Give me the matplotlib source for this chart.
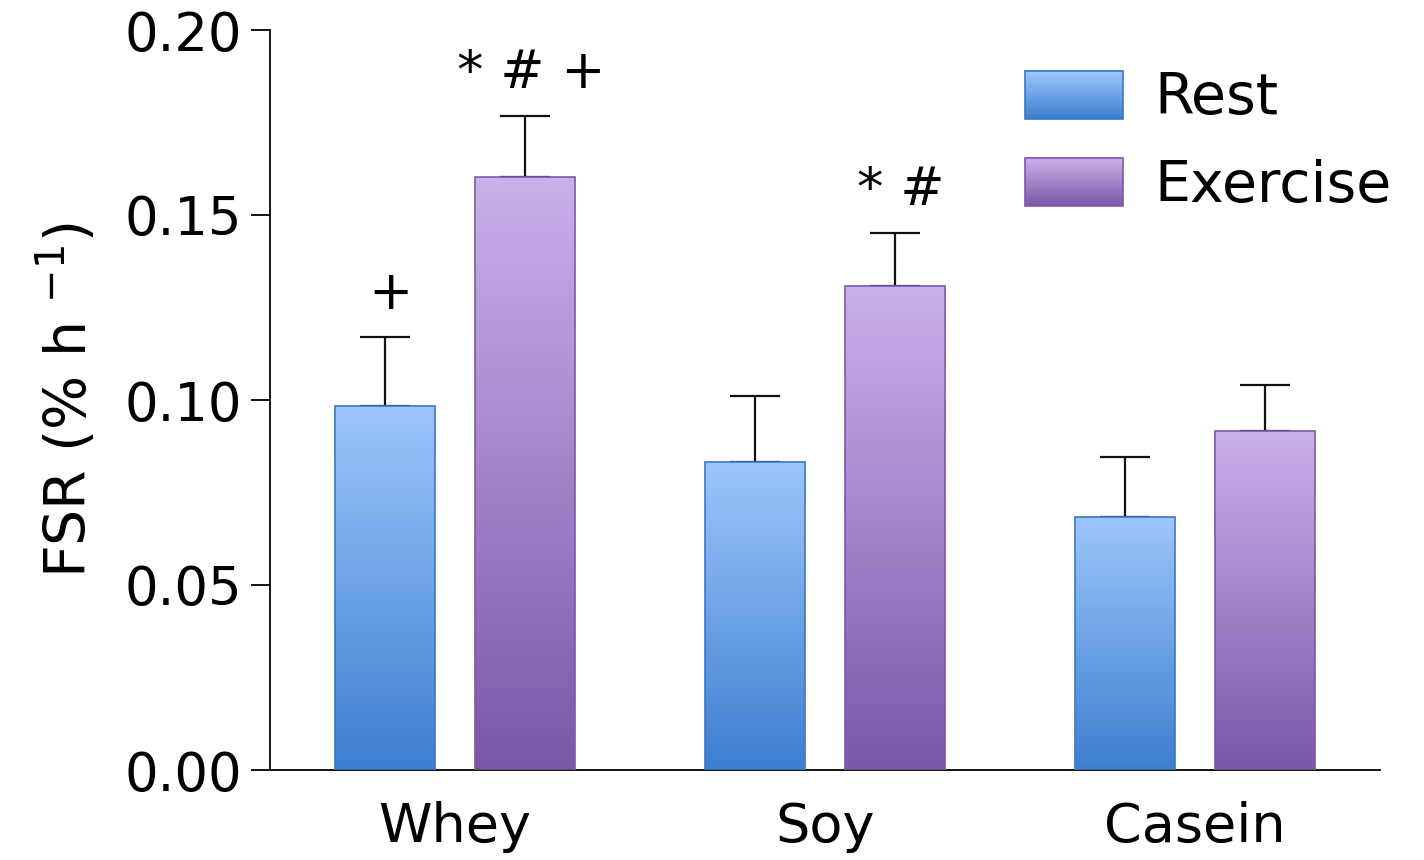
import numpy as np
import matplotlib
matplotlib.use('Agg')
from matplotlib import pyplot as plt
from matplotlib import colors as mcolors
from matplotlib.patches import Rectangle
from matplotlib.legend_handler import HandlerBase

groups     = ['Whey', 'Soy', 'Casein']
rest       = [0.0984, 0.0832, 0.0684]
rest_err   = [0.0186, 0.0180, 0.0162]
exer       = [0.1603, 0.1308, 0.0916]
exer_err   = [0.0165, 0.0143, 0.0124]
rest_marks = ['+', '', '']
exer_marks = ['* # +', '* #', '']

rest_cols = ('#9dc6fc', '#3d7fd0')   # top, bottom
exer_cols = ('#c9b1eb', '#7c56a7')
rest_edge = '#3b77c6'
exer_edge = '#7a5aa6'

plt.rcParams['font.family'] = 'DejaVu Sans'


def gradient_bars(ax, xs, heights, width, cols, edge):
	cmap = mcolors.LinearSegmentedColormap.from_list('g', [cols[1], cols[0]])
	grad = np.linspace(0, 1, 256).reshape(-1, 1)
	bars = ax.bar(xs, heights, width, facecolor='none', edgecolor=edge, linewidth=1.2, zorder=3)
	for b in bars:
		x0, y0 = b.get_x(), b.get_y()
		w, h   = b.get_width(), b.get_height()
		im = ax.imshow(grad, cmap=cmap, origin='lower', aspect='auto',
		               extent=(x0, x0 + w, y0, y0 + h), zorder=2, interpolation='bilinear')
		im.set_clip_path(b)
	return bars


class GradientHandler(HandlerBase):
	def __init__(self, cols, edge):
		super().__init__()
		self.cols = cols
		self.edge = edge

	def create_artists(self, legend, orig_handle, xdescent, ydescent, width, height, fontsize, trans):
		cmap = mcolors.LinearSegmentedColormap.from_list('g', [self.cols[1], self.cols[0]])
		n = 30
		arts = []
		for i in range(n):
			r = Rectangle((-xdescent, -ydescent + height * i / n), width, height / n + 0.3,
			              facecolor=cmap(i / (n - 1)), edgecolor='none', transform=trans)
			arts.append(r)
		arts.append(Rectangle((-xdescent, -ydescent), width, height, facecolor='none',
		                      edgecolor=self.edge, linewidth=1.2, transform=trans))
		return arts


fig = plt.figure(figsize=(14.24, 8.60), dpi=100)
ax  = fig.add_axes([270/1424, 90/860, 1110/1424, 740/860])

x     = np.arange(len(groups))
width = 0.27
off   = 0.19

rb = gradient_bars(ax, x - off, rest, width, rest_cols, rest_edge)
eb = gradient_bars(ax, x + off, exer, width, exer_cols, exer_edge)

ax.errorbar(x - off, rest, yerr=[np.zeros(3), rest_err], fmt='none', ecolor='#111111',
            elinewidth=1.6, capsize=18, capthick=1.6, zorder=1)
ax.errorbar(x + off, exer, yerr=[np.zeros(3), exer_err], fmt='none', ecolor='#111111',
            elinewidth=1.6, capsize=18, capthick=1.6, zorder=1)

for xs, vals, errs, marks in [(x - off, rest, rest_err, rest_marks), (x + off, exer, exer_err, exer_marks)]:
	for xi, v, e, m in zip(xs, vals, errs, marks):
		if m:
			ax.annotate(m, (xi, v + e), xytext=(4, 12), textcoords='offset points',
			            ha='center', va='bottom', fontsize=38)

ax.set_xlim(-0.5, 2.5)
ax.set_ylim(0, 0.20)
ax.set_yticks([0, 0.05, 0.10, 0.15, 0.20])
ax.set_yticklabels(['0.00', '0.05', '0.10', '0.15', '0.20'])
ax.set_xticks(x)
ax.set_xticklabels(groups)

ax.tick_params(axis='y', labelsize=38, length=14, width=1.3, pad=6)
ax.tick_params(axis='x', labelsize=39, length=0, pad=22)
ax.set_ylabel('FSR (% h $^{\\mathregular{-1}}$)', fontsize=41, labelpad=18)

ax.spines['right'].set_visible(False)
ax.spines['top'].set_visible(False)
ax.spines['left'].set_linewidth(1.3)
ax.spines['bottom'].set_linewidth(1.3)

ax.legend([rb, eb], ['Rest', 'Exercise'],
          handler_map={rb: GradientHandler(rest_cols, rest_edge), eb: GradientHandler(exer_cols, exer_edge)},
          loc='upper left', bbox_to_anchor=(0.68, 0.945), frameon=False, fontsize=41,
          handlelength=1.72, handleheight=0.93, handletextpad=0.56, labelspacing=0.55,
          borderpad=0, borderaxespad=0)

fig.savefig('out.png', dpi=100)
